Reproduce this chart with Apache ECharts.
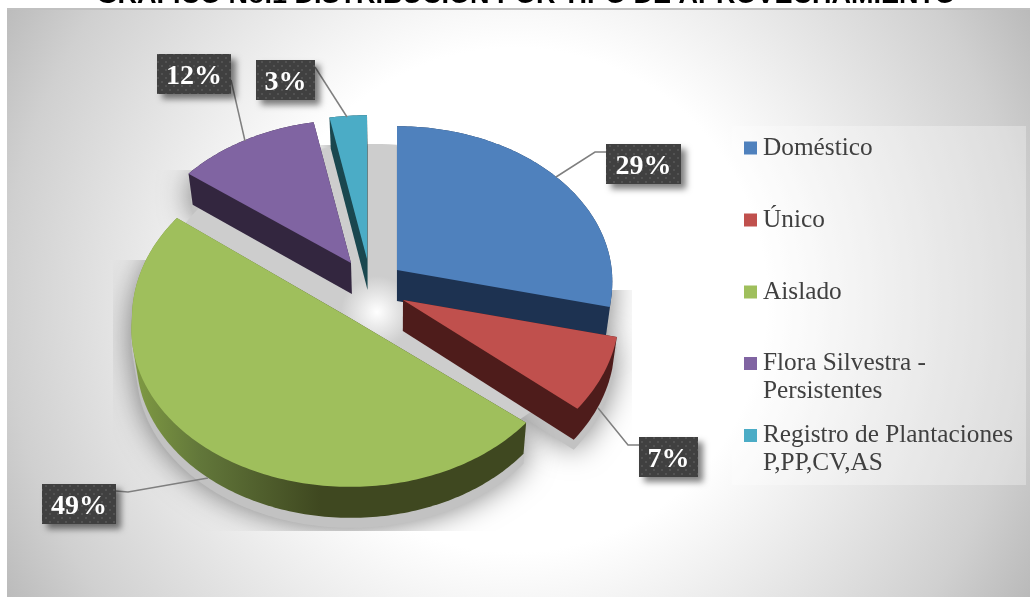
<!DOCTYPE html>
<html>
<head>
<meta charset="utf-8">
<style>html,body{margin:0;padding:0;background:#fff}#c{width:1030px;height:598px}</style>
<script src="https://cdn.jsdelivr.net/npm/echarts@6/dist/echarts.min.js"></script>
</head>
<body>
<div id="c"></div>
<script>
const titleText = 'GRÁFICO No.1 DISTRIBUCIÓN POR TIPO DE APROVECHAMIENTO';
const categories = ['Doméstico', 'Único', 'Aislado', 'Flora Silvestra -\nPersistentes', 'Registro de Plantaciones\nP,PP,CV,AS'];
const shares = [28.6, 7.4, 49.4, 11.6, 3.0];
const percentLabels = ['29%', '7%', '49%', '12%', '3%'];

// presentation settings
const topColors = ['#4f81bd', '#c0504d', '#9fbf5c', '#8064a2', '#4bacc6'];
const sideColors = ['#1d3251', '#4e1c1b', '#3f4820', '#33263f', '#1a474f'];
const explode = [[22, -15], [28, 15], [-25, 33], [-24, -22], [-8, -26]];
const sliceScale = [0.985, 0.99, 1, 0.98, 0.985];
const nearStretch = [1.05, 1.05, 1, 1, 1];
const farStretch = [1, 1, 1.05, 1, 1];
const farFlat = [false, false, true, false, false];
const shadowClipTop = [290, 145, 260, 170, 145];
const labelBoxes = [[606, 144, 75, 40], [639, 437, 59, 40], [42, 484, 74, 40], [157, 54, 74, 40], [256, 60, 59, 40]];
const leaders = [
  [[606, 152], [595, 152], [556, 177]],
  [[639, 445], [628, 445], [598, 408]],
  [[116, 491], [128, 492], [208, 478]],
  [[231, 80], [245, 141]],
  [[315, 67], [347, 117]]
];
const legendTops = [133.5, 205.5, 277.5, 349, 421];
const C = { x: 375, y: 285, R: 218, Rk: 156.6, p: 0.0727, depth: 31, vpx: 395, vps: 0.98 };
const total = shares.reduce((a, b) => a + b, 0);
const starts = shares.map((_, i) => shares.slice(0, i).reduce((a, b) => a + b, 0));

function project(deg, i) {
  const t = deg * Math.PI / 180, u = Math.sin(t), v = Math.cos(t);
  const flat = i !== undefined && farFlat[i] && v > 0;
  const s = flat ? 1 : 1 / (1 + C.p * v);
  const sc = i === undefined ? 1 : sliceScale[i];
  const yk = i === undefined ? 1 : (v > 0 ? farStretch[i] : nearStretch[i]);
  return [C.R * u * s * sc, -C.Rk * v * s * sc * yk];
}
function topFace(i, value, start) {
  const ox = C.x + explode[i][0], oy = C.y + explode[i][1];
  const a0 = start / total * 360, a1 = (start + value) / total * 360, pts = [[ox, oy]];
  const n = Math.max(4, Math.ceil(a1 - a0));
  for (let k = 0; k <= n; k++) {
    const q = project(a0 + (a1 - a0) * k / n, i);
    pts.push([ox + q[0], oy + q[1]]);
  }
  return pts;
}
const lower = pts => pts.map(p => [C.vpx + (p[0] - C.vpx) * C.vps, p[1] + C.depth]);
function hull(points) {
  const P = points.slice().sort((a, b) => a[0] - b[0] || a[1] - b[1]);
  const cross = (o, a, b) => (a[0] - o[0]) * (b[1] - o[1]) - (a[1] - o[1]) * (b[0] - o[0]);
  const lo = [], up = [];
  for (const p of P) { while (lo.length > 1 && cross(lo[lo.length - 2], lo[lo.length - 1], p) <= 0) lo.pop(); lo.push(p); }
  for (const p of P.slice().reverse()) { while (up.length > 1 && cross(up[up.length - 2], up[up.length - 1], p) <= 0) up.pop(); up.push(p); }
  lo.pop(); up.pop();
  return lo.concat(up);
}

const dot = document.createElement('canvas');
dot.width = dot.height = 8;
const g = dot.getContext('2d');
g.fillStyle = '#404040'; g.fillRect(0, 0, 8, 8);
g.fillStyle = '#525252'; g.fillRect(1, 1, 2, 2); g.fillRect(5, 5, 2, 2);

const chart = echarts.init(document.getElementById('c'), null, { renderer: 'canvas' });
const serif = '"Liberation Serif", serif';

function renderShadow(params, api) {
  const kids = [];
  shares.forEach((v, i) => {
    const top = topFace(i, v, starts[i]);
    const h = hull(top.concat(lower(top))).map(p => [p[0], p[1] + 10]);
    const y0 = shadowClipTop[i];
    kids.push({
      type: 'polygon', shape: { points: h }, silent: true,
      clipPath: { type: 'rect', shape: { x: 113, y: y0, width: 519, height: 531 - y0 } },
      style: { fill: '#c2c2c2', shadowBlur: 30, shadowColor: 'rgba(0,0,0,0.5)' }
    });
  });
  const disk = [];
  for (let a = 0; a < 360; a += 2) { const q = project(a); disk.push([C.x + q[0], C.y + 5 + q[1]]); }
  kids.push({
    type: 'polygon', shape: { points: disk }, silent: true,
    style: {
      fill: new echarts.graphic.RadialGradient(377, 312, 36, [
        { offset: 0, color: '#ffffff' }, { offset: 1, color: '#cdcdcd' }], true)
    }
  });
  return { type: 'group', children: kids };
}

function sliceRenderer(i) {
  return function (params, api) {
    const value = api.value(0), start = api.value(1);
    const top = topFace(i, value, start);
    const sideFill = i === 2
      ? new echarts.graphic.LinearGradient(135, 0, 320, 0, [
          { offset: 0, color: '#7f9a43' }, { offset: 0.35, color: '#62773a' },
          { offset: 1, color: sideColors[i] }], true)
      : sideColors[i];
    const b = labelBoxes[i];
    return {
      type: 'group',
      children: [
        { type: 'polygon', shape: { points: hull(top.concat(lower(top))) }, style: { fill: sideFill } },
        { type: 'polygon', shape: { points: top }, style: { fill: api.visual('color') } },
        { type: 'polyline', shape: { points: leaders[i] }, silent: true, style: { fill: null, stroke: '#7f7f7f', lineWidth: 1.5 } },
        {
          type: 'rect', shape: { x: b[0], y: b[1], width: b[2], height: b[3] }, silent: true,
          style: { fill: { image: dot, repeat: 'repeat' }, shadowBlur: 6, shadowOffsetX: 5, shadowOffsetY: 5, shadowColor: 'rgba(0,0,0,0.5)' }
        },
        {
          type: 'text', x: b[0] + b[2] / 2, y: b[1] + b[3] / 2 + 3, silent: true,
          style: { text: percentLabels[i], fill: '#fff', font: 'bold 28px ' + serif, align: 'center', verticalAlign: 'middle' }
        }
      ]
    };
  };
}

const twoLineIcon = 'path://M0 0L13 0L13 0Z M0 7.5L13 7.5L13 20.5L0 20.5Z M0 56L13 56L13 56Z';

chart.setOption({
  animation: false,
  graphic: [
    {
      type: 'text', z: 6, x: 526, y: -4, silent: true,
      style: { text: titleText, fill: '#000', font: 'bold 27px "Liberation Sans", Arial, sans-serif', align: 'center', verticalAlign: 'middle' }
    },
    {
      type: 'rect', z: -10, shape: { x: 7, y: 9, width: 1023, height: 588 }, silent: true,
      style: {
        fill: new echarts.graphic.RadialGradient(515, 300, 600, [
          { offset: 0, color: '#ffffff' }, { offset: 0.42, color: '#ffffff' },
          { offset: 0.85, color: '#d0d0d0' }, { offset: 1, color: '#b8b8b8' }], true)
      }
    },
    { type: 'line', z: -9, shape: { x1: 7, y1: 9, x2: 1030, y2: 9 }, silent: true, style: { stroke: '#c0c0c0', lineWidth: 2 } },
    { type: 'rect', z: -8, shape: { x: 732, y: 126, width: 294, height: 359 }, silent: true, style: { fill: 'rgba(255,255,255,0.3)' } }
  ],
  legend: categories.map((name, i) => {
    const two = name.indexOf('\n') >= 0;
    return {
      data: [{ name, icon: two ? twoLineIcon : 'rect' }],
      left: 744, top: legendTops[i], padding: 0, itemGap: 0, itemWidth: 13,
      itemHeight: two ? 56 : 13, selectedMode: false,
      textStyle: { fontFamily: serif, fontSize: 25.3, lineHeight: 28, color: '#404040', padding: [1, 0, 0, 1] }
    };
  }),
  series: [
    { type: 'custom', name: 'sombra', coordinateSystem: 'none', silent: true, data: [[total]], renderItem: renderShadow, z: 1 }
  ].concat(categories.map((name, i) => ({
    type: 'custom', name, coordinateSystem: 'none',
    itemStyle: { color: topColors[i] },
    encode: { value: 0 },
    data: [[shares[i], starts[i]]],
    renderItem: sliceRenderer(i),
    z: 2 + i
  })))
});
</script>
</body>
</html>
